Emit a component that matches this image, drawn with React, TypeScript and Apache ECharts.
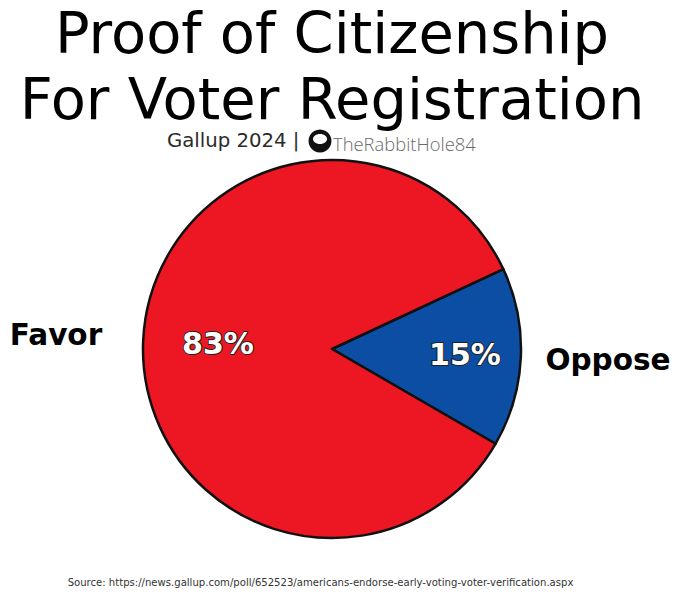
import React, { useEffect, useRef } from "react";
import * as echarts from "echarts";

const categories = ["Oppose", "Favor"];
const values = [15, 83];
const sliceColors = ["#0B4EA3", "#ED1723"];
const titleLines = ["Proof of Citizenship", "For Voter Registration"];
const subtitle = "Gallup 2024 |";
const handle = "TheRabbitHole84";
const source = "Source: https://news.gallup.com/poll/652523/americans-endorse-early-voting-voter-verification.aspx";

const FONT = '"DejaVu Sans", sans-serif';

const percentPos: Record<string, [number, number]> = { Oppose: [465, 354], Favor: [218, 343] };
const namePos: Record<string, [number, number]> = { Oppose: [608, 360], Favor: [56, 335] };

export default function App() {
  const ref = useRef<HTMLDivElement>(null);
  useEffect(() => {
    const chart = echarts.init(ref.current!, undefined, { renderer: "svg" });
    const plain = categories.map((name, i) => ({ name, value: values[i] }));
    const coloured = categories.map((name, i) => ({
      name,
      value: values[i],
      itemStyle: { color: sliceColors[i] },
    }));
    const base = {
      type: "pie",
      center: [332, 349],
      radius: [0, 189],
      startAngle: 25,
      clockwise: true,
      silent: true,
    };
    chart.setOption({
      animation: false,
      backgroundColor: "#ffffff",
      series: [
        {
          ...base,
          data: coloured,
          itemStyle: { borderColor: "#111111", borderWidth: 2.5 },
          label: {
            show: true,
            position: "inside",
            formatter: "{c}%",
            fontFamily: FONT,
            fontWeight: "bold",
            fontSize: 30,
            color: "#ffffff",
            textBorderColor: "#222222",
            textBorderWidth: 2,
          },
          labelLine: { show: false },
          labelLayout: (p: any) => {
            const pos = percentPos[categories[p.dataIndex]];
            return { x: pos[0], y: pos[1], align: "center", verticalAlign: "middle" };
          },
        },
        {
          ...base,
          data: plain,
          itemStyle: { color: "transparent", borderWidth: 0 },
          label: {
            show: true,
            position: "inside",
            formatter: "{b}",
            fontFamily: FONT,
            fontWeight: "bold",
            fontSize: 29.5,
            color: "#000000",
          },
          labelLine: { show: false },
          labelLayout: (p: any) => {
            const pos = namePos[categories[p.dataIndex]];
            return { x: pos[0], y: pos[1], align: "center", verticalAlign: "middle" };
          },
        },
      ],
      graphic: [
        ...titleLines.map((text, i) => ({
          type: "text",
          x: 332,
          y: 33 + i * 66,
          style: {
            text,
            fontFamily: FONT,
            fontSize: 57.5,
            fill: "#000000",
            align: "center",
            verticalAlign: "middle",
          },
        })),
        {
          type: "text",
          x: 167,
          y: 140,
          style: {
            text: subtitle,
            fontFamily: FONT,
            fontSize: 19.7,
            fill: "#2b2b2b",
            align: "left",
            verticalAlign: "middle",
          },
        },
        { type: "circle", shape: { cx: 320, cy: 141, r: 11.5 }, style: { fill: "#111111" } },
        { type: "ellipse", shape: { cx: 320, cy: 139, rx: 7, ry: 5 }, style: { fill: "#ffffff" } },
        {
          type: "text",
          x: 333,
          y: 143,
          style: {
            text: handle,
            fontFamily: '"Open Sans", sans-serif',
            fontWeight: 300,
            fontSize: 18.4,
            fill: "#6a6a6a",
            align: "left",
            verticalAlign: "middle",
          },
        },
        {
          type: "text",
          x: 320.5,
          y: 582,
          style: {
            text: source,
            fontFamily: FONT,
            fontSize: 10.08,
            fill: "#333333",
            align: "center",
            verticalAlign: "middle",
          },
        },
      ],
    });
    return () => chart.dispose();
  }, []);
  return <div ref={ref} style={{ position: "fixed", left: 0, top: 0, width: 680, height: 597 }} />;
}
